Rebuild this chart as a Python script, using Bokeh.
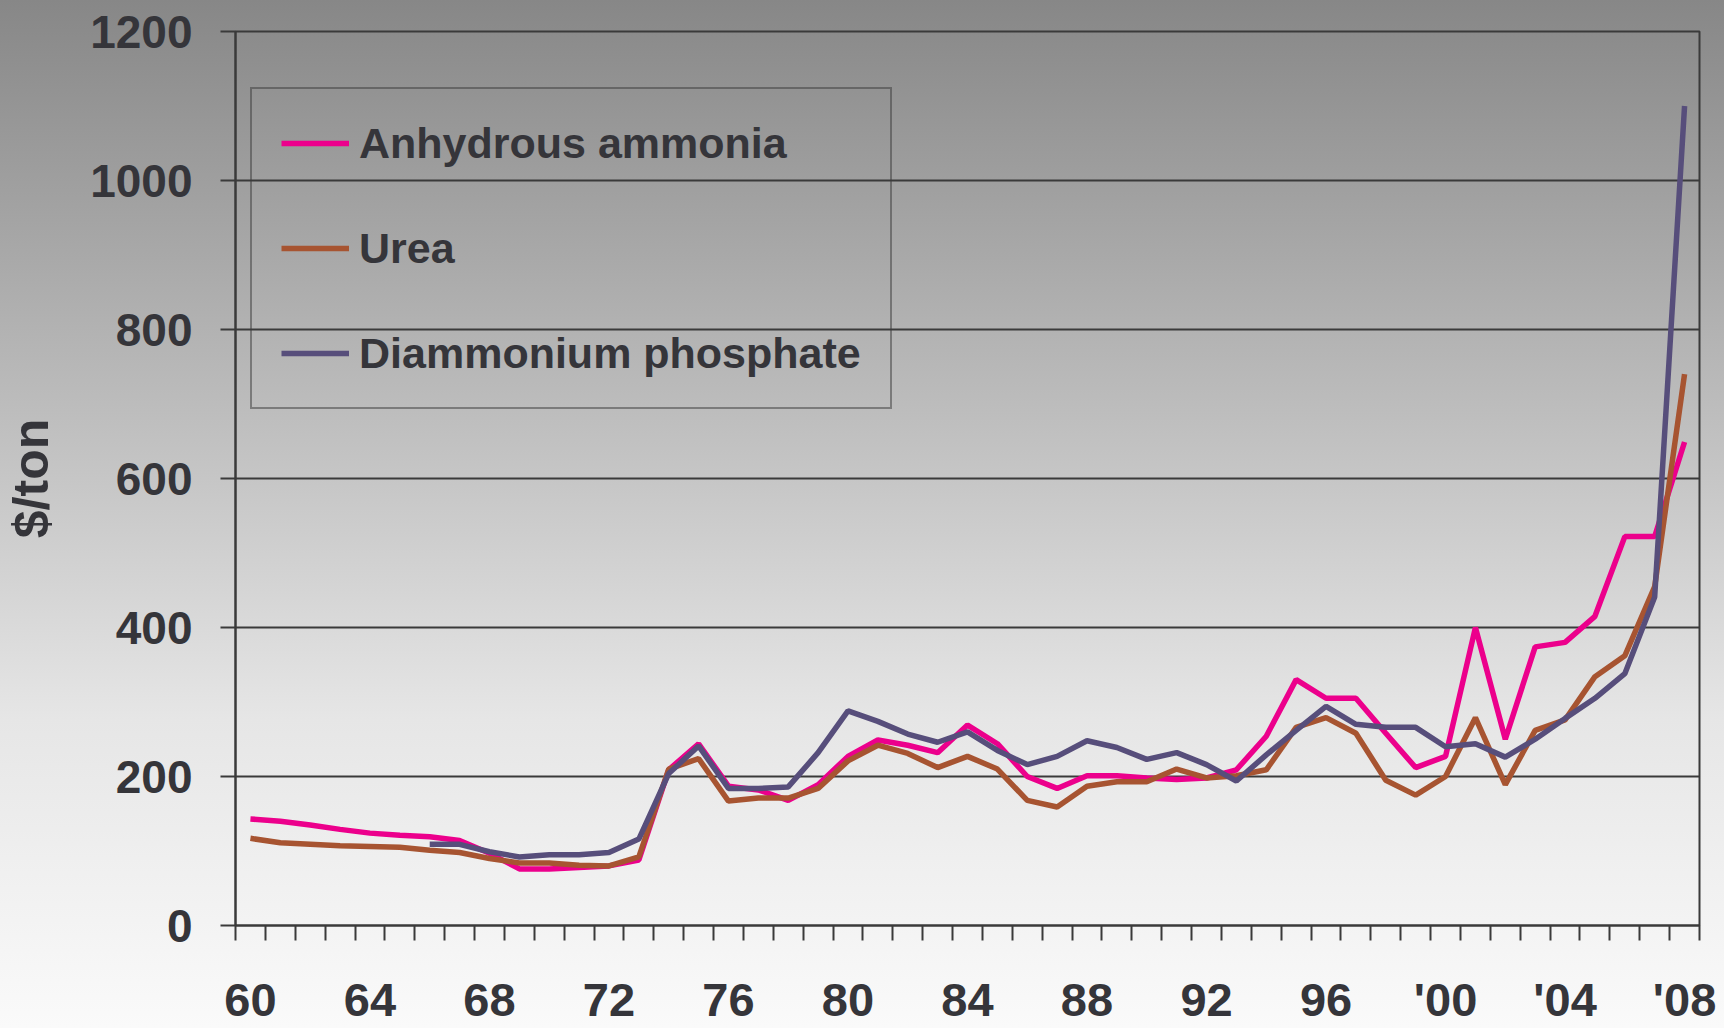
import numpy as np
from bokeh.plotting import figure
from bokeh.models import Range1d, FixedTicker, Legend, LegendItem, ColumnDataSource
from bokeh.embed import file_html
from bokeh.resources import INLINE

# ---- data -------------------------------------------------------------
years = list(range(1960, 2009))
ammonia = [143, 140, 135, 129, 124, 121, 119, 114, 97, 76, 76, 78, 80, 88,
           209, 244, 187, 182, 168, 189, 227, 249, 242, 232, 269, 244, 200, 184,
           201, 201, 198, 196, 198, 209, 254, 330, 305, 305, 258, 212, 227,
           400, 250, 374, 380, 415, 522, 522, 649]
urea = [117, 111, 109, 107, 106, 105, 101, 98, 90, 84, 84, 81, 80, 92,
        210, 224, 167, 171, 171, 184, 221, 242, 231, 212, 227, 210, 168, 159,
        187, 193, 193, 210, 198, 201, 209, 266, 279, 258, 195, 175, 200,
        279, 189, 262, 276, 334, 362, 455, 740]
dap = [None, None, None, None, None, None, 109, 109, 99, 92, 95, 95, 98, 116,
       204, 241, 184, 184, 186, 232, 288, 274, 257, 246, 260, 235, 216, 227,
       248, 239, 223, 232, 216, 194, 229, 262, 294, 270, 266, 266, 240,
       244, 226, 250, 278, 305, 338, 441, 1100]
series_names = ["Anhydrous ammonia", "Urea", "Diammonium phosphate"]
label_years = [1960, 1964, 1968, 1972, 1976, 1980, 1984, 1988, 1992, 1996, 2000, 2004, 2008]
tick_labels = ["60", "64", "68", "72", "76", "80", "84", "88", "92", "96", "'00", "'04", "'08"]
y_ticks = [0, 200, 400, 600, 800, 1000, 1200]
y_label = "$/ton"

# ---- styling ----------------------------------------------------------
TEXT = "#35353a"
LINE = "#3a3a3a"
FONT = "Liberation Sans"
colors = ["#ec008c", "#a75431", "#574e7b"]

src = ColumnDataSource(dict(
    year=years,
    ammonia=np.array(ammonia, dtype=float),
    urea=np.array(urea, dtype=float),
    dap=np.array(dap, dtype=float),
))

p = figure(width=1724, height=1028, output_backend="svg", toolbar_location=None,
           x_range=Range1d(years[0] - 0.5, years[-1] + 0.5),
           y_range=Range1d(0, 1200),
           min_border_left=235, min_border_right=25, min_border_top=31,
           min_border_bottom=103)
p.styles = {"background": "linear-gradient(to bottom, #878787 0%, #bdbdbd 40%, #e6e6e6 70%, #fafafa 100%)"}
p.border_fill_color = None
p.background_fill_color = None
p.outline_line_color = LINE
p.outline_line_width = 2

renderers = []
for col, c in zip(["ammonia", "urea", "dap"], colors):
    r = p.line("year", col, source=src, line_color=c, line_width=5.5)
    renderers.append(r)

# x axis
p.xaxis.ticker = FixedTicker(ticks=label_years,
                             minor_ticks=[y - 0.5 for y in years] + [years[-1] + 0.5])
p.xaxis.major_label_overrides = {y: t for y, t in zip(label_years, tick_labels)}
p.xaxis.major_tick_out = 0
p.xaxis.major_tick_in = 0
p.xaxis.minor_tick_out = 15
p.xaxis.minor_tick_in = 0
p.xaxis.minor_tick_line_color = LINE
p.xaxis.minor_tick_line_width = 2
p.xaxis.major_label_standoff = 32
p.xaxis.major_label_text_font = FONT
p.xaxis.major_label_text_font_style = "bold"
p.xaxis.major_label_text_font_size = "47px"
p.xaxis.major_label_text_color = TEXT
p.xaxis.axis_line_color = LINE
p.xaxis.axis_line_width = 2

# y axis
p.yaxis.ticker = FixedTicker(ticks=y_ticks)
p.yaxis.minor_tick_line_color = None
p.yaxis.major_tick_out = 15
p.yaxis.major_tick_in = 0
p.yaxis.major_tick_line_color = LINE
p.yaxis.major_tick_line_width = 2
p.yaxis.major_label_standoff = 28
p.yaxis.major_label_text_font = FONT
p.yaxis.major_label_text_font_style = "bold"
p.yaxis.major_label_text_font_size = "46px"
p.yaxis.major_label_text_color = TEXT
p.yaxis.axis_line_color = LINE
p.yaxis.axis_line_width = 2
p.yaxis.axis_label = y_label
p.yaxis.axis_label_text_font = FONT
p.yaxis.axis_label_text_font_style = "bold"
p.yaxis.axis_label_text_font_size = "50px"
p.yaxis.axis_label_text_color = TEXT
p.yaxis.axis_label_standoff = 28

p.xgrid.visible = False
p.ygrid.ticker = FixedTicker(ticks=y_ticks)
p.ygrid.grid_line_color = LINE
p.ygrid.grid_line_width = 2

legend = Legend(items=[LegendItem(label=n, renderers=[r]) for n, r in zip(series_names, renderers)],
                location=(15, 516))
legend.label_text_font = FONT
legend.label_text_font_style = "bold"
legend.label_text_font_size = "43px"
legend.label_text_color = TEXT
legend.glyph_width = 68
legend.glyph_height = 50
legend.label_height = 50
legend.label_standoff = 10
legend.spacing = 55
legend.padding = 29
legend.background_fill_alpha = 0
legend.border_line_color = LINE
legend.border_line_width = 2
p.add_layout(legend)

open("out.html", "w").write(file_html(p, INLINE))
